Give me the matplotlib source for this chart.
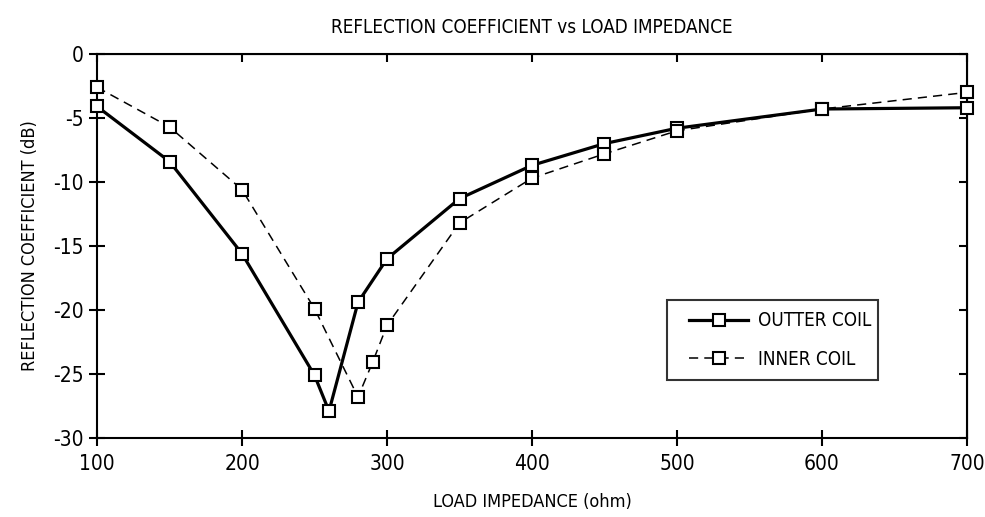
import matplotlib
matplotlib.use("Agg")
import matplotlib.pyplot as plt
from matplotlib import font_manager
from matplotlib.lines import Line2D
from matplotlib.legend_handler import HandlerLine2D

# pick the narrowest sans that is installed
cond = [f for f in font_manager.fontManager.ttflist
        if f.stretch in ('condensed', 'semi-condensed', 'extra-condensed', 575, 600, 500)
        or 'Narrow' in f.name or 'Condensed' in f.name]
if cond:
    fam = cond[0].name
    stretch = cond[0].stretch
else:
    fam = 'Liberation Sans'
    stretch = 'normal'
plt.rcParams['font.family'] = [fam, 'DejaVu Sans']
plt.rcParams['font.stretch'] = stretch
plt.rcParams['axes.unicode_minus'] = False

# data
outer_x = [100, 150, 200, 250, 260, 280, 300, 350, 400, 450, 500, 600, 700]
outer_y = [-4.1, -8.4, -15.6, -25.1, -27.9, -19.4, -16.0, -11.3, -8.7, -7.0, -5.8, -4.3, -4.2]
inner_x = [100, 150, 200, 250, 280, 290, 300, 350, 400, 450, 500, 600, 700]
inner_y = [-2.6, -5.7, -10.6, -19.9, -26.8, -24.1, -21.2, -13.2, -9.7, -7.8, -6.0, -4.3, -3.0]

xticks = [100, 200, 300, 400, 500, 600, 700]
yticks = [0, -5, -10, -15, -20, -25, -30]

fig = plt.figure(figsize=(9.85, 5.17), dpi=100)
ax = fig.add_axes([0.0985, 0.1528, 0.8832, 0.7428])

mk = dict(marker='s', markersize=9, markerfacecolor='white',
          markeredgecolor='black', markeredgewidth=1.5, clip_on=False, zorder=3)
ax.plot(outer_x, outer_y, '-', color='black', linewidth=2.3, label='OUTTER COIL', **mk)
ax.plot(inner_x, inner_y, '--', color='black', linewidth=1.1, dashes=(6, 4),
        label='INNER COIL', **mk)

ax.set_xlim(100, 700)
ax.set_ylim(-30, 0)
ax.set_xticks(xticks)
ax.set_yticks(yticks)
ax.tick_params(direction='inout', length=11, width=1.5, labelsize=15)
ax.tick_params(axis='x', pad=6)
ax.tick_params(axis='y', pad=4)
for s in ax.spines.values():
    s.set_linewidth(1.5)

top = ax.secondary_xaxis('top')
top.set_xticks(xticks)
top.tick_params(direction='in', length=6, width=1.5, labeltop=False)
right = ax.secondary_yaxis('right')
right.set_yticks(yticks)
right.tick_params(direction='in', length=6, width=1.5, labelright=False)

ax.set_title('REFLECTION COEFFICIENT vs LOAD IMPEDANCE', fontsize=13.5, pad=15)
ax.set_xlabel('LOAD IMPEDANCE (ohm)', fontsize=13, labelpad=14)
ax.set_ylabel('REFLECTION COEFFICIENT (dB)', fontsize=13, labelpad=10)

leg = ax.legend(loc='lower left', bbox_to_anchor=(0.655, 0.151, 0.243, 0.217),
                mode='expand', fontsize=13.5, frameon=True, fancybox=False,
                handlelength=3.75, borderpad=0.6, labelspacing=1.05, handletextpad=0.5,
                borderaxespad=0, handler_map={Line2D: HandlerLine2D(xpad=0.6)})
leg.get_frame().set_edgecolor('black')
leg.get_frame().set_linewidth(1.5)

fig.savefig('out.png', dpi=100)
